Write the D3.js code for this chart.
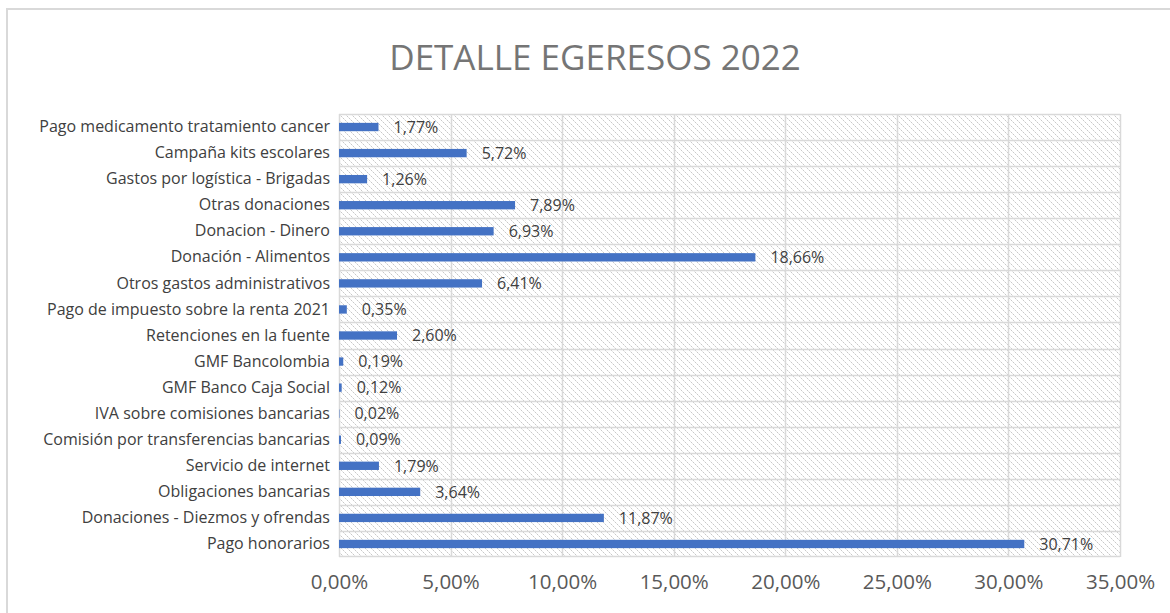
<!DOCTYPE html>
<html>
<head>
<meta charset="utf-8">
<script src="https://cdn.jsdelivr.net/npm/d3@7"></script>
<style>
  body { margin: 0; background: #fff; }
  text { font-family: "Open Sans", "Noto Sans", sans-serif; }
</style>
</head>
<body>
<script>
// categorias de arriba hacia abajo
const categories = [
  'Pago medicamento tratamiento cancer',
  'Campaña kits escolares',
  'Gastos por logística - Brigadas',
  'Otras donaciones',
  'Donacion - Dinero',
  'Donación - Alimentos',
  'Otros gastos administrativos',
  'Pago de impuesto sobre la renta 2021',
  'Retenciones en la fuente ',
  'GMF Bancolombia',
  'GMF Banco Caja Social',
  'IVA sobre comisiones bancarias',
  'Comisión por transferencias bancarias',
  'Servicio de internet ',
  'Obligaciones bancarias',
  'Donaciones - Diezmos y ofrendas',
  'Pago honorarios '
]
// porcentajes
const values = [1.77, 5.72, 1.26, 7.89, 6.93, 18.66, 6.41, 0.35, 2.60, 0.19, 0.12, 0.02, 0.09, 1.79, 3.64, 11.87, 30.71]
const xTicks = [0, 5, 10, 15, 20, 25, 30, 35]

const data = categories.map((c, i) => ({name: c, value: values[i]}))

const W = 1170, H = 613
const margin = {top: 114, bottom: 56, left: 339, right: 50}
const width = W - margin.left - margin.right
const height = H - margin.top - margin.bottom

const fmt = (v) => v.toFixed(2).replace('.', ',') + '%'

const svg = d3.select('body').append('svg')
  .attr('width', W)
  .attr('height', H)

// patron de rayas diagonales (puntos)
const defs = svg.append('defs')
const pat = defs.append('pattern')
  .attr('id', 'hatch')
  .attr('patternUnits', 'userSpaceOnUse')
  .attr('width', 6).attr('height', 6)
pat.selectAll('rect')
  .data([0, 1, 2, 3, 4, 5])
  .join('rect')
  .attr('x', (d) => d).attr('y', (d) => d)
  .attr('width', 1).attr('height', 1)
  .attr('fill', (d) => d % 2 ? '#e6e6e6' : '#c8c8c8')
  .attr('shape-rendering', 'crispEdges')

// borde exterior del grafico
svg.append('rect')
  .attr('x', 7).attr('y', 9)
  .attr('width', W + 10).attr('height', H + 10)
  .attr('fill', 'none')
  .attr('stroke', '#d9d9d9')
  .attr('stroke-width', 2)

svg.append('text')
  .attr('x', 595).attr('y', 70)
  .attr('text-anchor', 'middle')
  .attr('fill', '#757575')
  .attr('font-size', 35)
  .text('DETALLE EGERESOS 2022')

const g = svg.append('g')
  .attr('transform', `translate(${margin.left},${margin.top})`)

const xScale = d3.scaleLinear()
  .domain([0, 35])
  .range([0, width])

const yGrid = d3.scaleBand()
  .domain(categories)
  .range([0, height])

const yScale = d3.scaleBand()
  .domain(categories)
  .range([0, height])
  .paddingInner(0.68)
  .paddingOuter(0.34)

g.append('rect')
  .attr('width', width).attr('height', height)
  .attr('fill', 'url(#hatch)')

// lineas horizontales entre categorias
g.append('g')
  .selectAll('line')
  .data(categories.slice(1))
  .join('line')
  .attr('x1', 0).attr('x2', width)
  .attr('y1', (d) => Math.round(yGrid(d)) + 0.5)
  .attr('y2', (d) => Math.round(yGrid(d)) + 0.5)
  .attr('stroke', '#d9d9d9')
  .attr('stroke-width', 1.5)

// lineas verticales
g.append('g')
  .selectAll('line')
  .data(xTicks)
  .join('line')
  .attr('x1', (d) => Math.round(xScale(d)) + 0.5)
  .attr('x2', (d) => Math.round(xScale(d)) + 0.5)
  .attr('y1', 0).attr('y2', height)
  .attr('stroke', '#d9d9d9')
  .attr('stroke-width', 1.5)

g.append('line')
  .attr('x1', 0).attr('x2', width)
  .attr('y1', 0.5).attr('y2', 0.5)
  .attr('stroke', '#d9d9d9').attr('stroke-width', 1.5)
g.append('line')
  .attr('x1', 0).attr('x2', width)
  .attr('y1', height - 0.5).attr('y2', height - 0.5)
  .attr('stroke', '#d9d9d9').attr('stroke-width', 1.5)

// barras
g.selectAll('rect.bar')
  .data(data)
  .join('rect')
  .attr('class', 'bar')
  .attr('x', 0)
  .attr('y', (d) => yScale(d.name))
  .attr('width', (d) => xScale(d.value))
  .attr('height', yScale.bandwidth())
  .attr('fill', '#4472c4')

// etiquetas de valores
g.selectAll('text.val')
  .data(data)
  .join('text')
  .attr('class', 'val')
  .attr('x', (d) => xScale(d.value) + 15)
  .attr('y', (d) => yGrid(d.name) + yGrid.bandwidth() / 2)
  .attr('dy', '0.36em')
  .attr('fill', '#404040')
  .attr('font-size', 16)
  .text((d) => fmt(d.value))

// eje y
const yAxis = d3.axisLeft(yGrid).tickSize(0).tickPadding(9)
const gy = g.append('g').call(yAxis)
gy.select('.domain').remove()
gy.selectAll('text')
  .attr('fill', '#404040')
  .attr('font-size', 16)
  .attr('font-family', '"Open Sans", sans-serif')

// eje x
const xAxis = d3.axisBottom(xScale).tickValues(xTicks).tickSize(0).tickPadding(17)
  .tickFormat((d) => fmt(d))
const gx = g.append('g').attr('transform', `translate(0,${height})`).call(xAxis)
gx.select('.domain').remove()
gx.selectAll('text')
  .attr('fill', '#595959')
  .attr('font-size', 20.5)
  .attr('font-family', '"Open Sans", sans-serif')
</script>
</body>
</html>
